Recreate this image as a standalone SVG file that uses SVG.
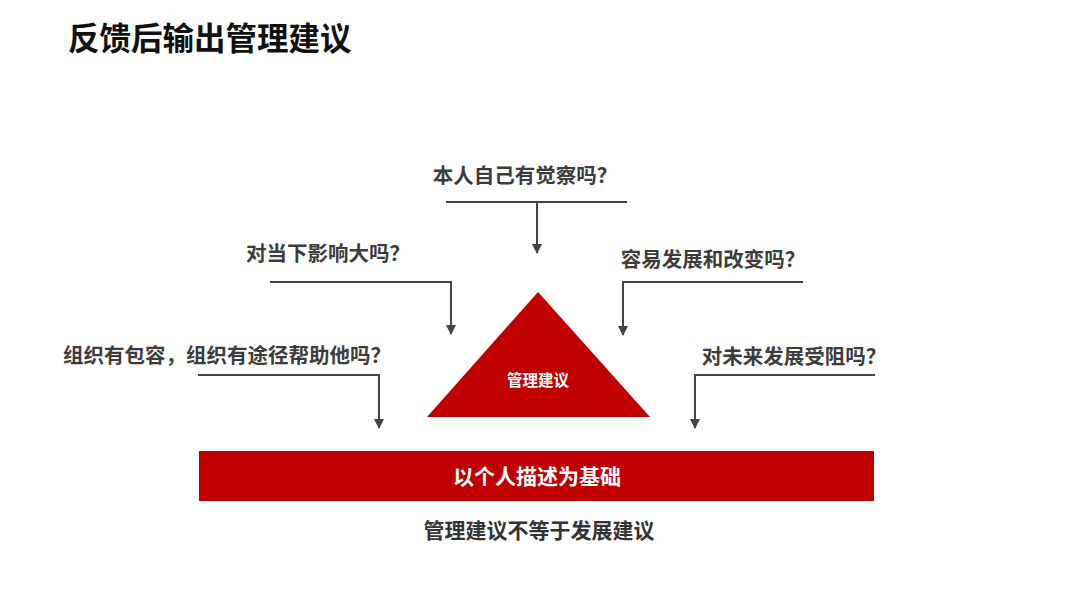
<svg xmlns="http://www.w3.org/2000/svg" width="1080" height="608" viewBox="0 0 1080 608">
<style>
.t{font-family:"Noto Sans CJK SC","Noto Sans",sans-serif;font-weight:bold}
.q{font-size:20.5px;fill:#3c3c3c}
.c{fill:none;stroke:#444;stroke-width:2}
</style>
<defs>
<marker id="ah" viewBox="0 0 10 10" refX="9" refY="5" markerWidth="5" markerHeight="5" orient="auto" markerUnits="strokeWidth">
<path d="M0,0 L10,5 L0,10 z" fill="#444"/>
</marker>
</defs>
<rect width="1080" height="608" fill="#fff"/>
<text class="t" x="68" y="50" font-size="31.5" fill="#111">反馈后输出管理建议</text>
<g id="connectors">
<path class="c" d="M446,202 H627 M537,202 V253" marker-end="url(#ah)"/>
<path class="c" d="M270,282 H451 V334" marker-end="url(#ah)"/>
<path class="c" d="M803,282 H623 V335" marker-end="url(#ah)"/>
<path class="c" d="M198,375 H379 V428" marker-end="url(#ah)"/>
<path class="c" d="M875,375 H695 V428" marker-end="url(#ah)"/>
</g>
<g id="q1"><text class="t q" x="525" y="183" text-anchor="middle">本人自己有觉察吗？</text></g>
<g id="q2"><text class="t q" x="328" y="261" text-anchor="middle">对当下影响大吗？</text></g>
<g id="q3"><text class="t q" x="713" y="267" text-anchor="middle">容易发展和改变吗？</text></g>
<g id="q4"><text class="t q" x="227" y="363" text-anchor="middle">组织有包容，组织有途径帮助他吗？</text></g>
<g id="q5"><text class="t q" x="794" y="364" text-anchor="middle">对未来发展受阻吗？</text></g>
<g id="triangle">
<polygon points="538,292 650,417 427,417" fill="#c00000"/>
<text class="t" x="538" y="386" font-size="15.5" fill="#fff" text-anchor="middle">管理建议</text>
</g>
<g id="base">
<rect x="199" y="451" width="675" height="50" fill="#c00000"/>
<text class="t" x="537" y="484" font-size="21" fill="#fff" text-anchor="middle">以个人描述为基础</text>
</g>
<g id="note"><text class="t" x="539" y="538" font-size="21" fill="#333" text-anchor="middle">管理建议不等于发展建议</text></g>
</svg>
